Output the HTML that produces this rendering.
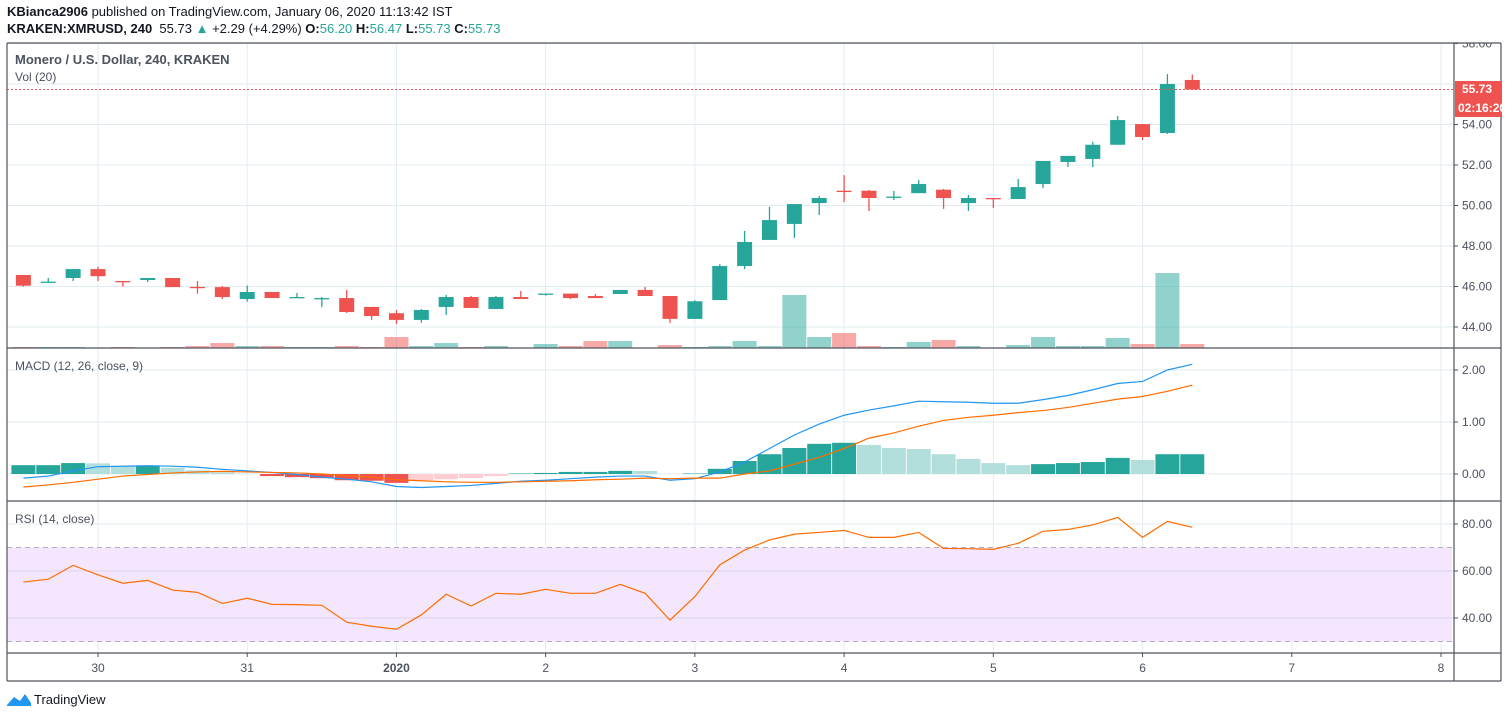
<!DOCTYPE html>
<html><head><meta charset="utf-8">
<style>
html,body{margin:0;padding:0;background:#fff;width:1508px;height:718px;overflow:hidden;font-family:"Liberation Sans",sans-serif;}
.hdr{position:absolute;left:7px;font-size:13px;color:#131722;white-space:nowrap;}
.g{color:#26a69a}
</style></head><body>
<div class="hdr" style="top:4px"><b>KBianca2906</b> published on TradingView.com, January 06, 2020 11:13:42 IST</div>
<div class="hdr" style="top:21px"><b>KRAKEN:XMRUSD, 240</b>&nbsp; 55.73 <span class="g">▲</span> +2.29 (+4.29%) <b>O:</b><span class="g">56.20</span> <b>H:</b><span class="g">56.47</span> <b>L:</b><span class="g">55.73</span> <b>C:</b><span class="g">55.73</span></div>
<svg id="chart" width="1508" height="718" style="position:absolute;left:0;top:0"></svg>
<script>
const opens=[46.57,46.21,46.42,46.86,46.27,46.32,46.42,45.98,45.97,45.38,45.73,45.45,45.40,45.43,44.99,44.68,44.35,44.99,45.48,44.89,45.48,45.60,45.65,45.53,45.63,45.83,45.53,44.40,45.33,47.01,48.30,49.09,50.12,50.73,50.73,50.40,50.61,50.78,50.12,50.37,50.32,51.06,52.15,52.30,53.00,54.02,53.58,56.20];
const highs=[46.57,46.42,46.86,46.98,46.27,46.42,46.42,46.27,46.02,46.05,45.73,45.68,45.48,45.83,44.99,44.84,44.89,45.58,45.53,45.53,45.78,45.65,45.65,45.63,45.83,45.98,45.53,45.32,47.10,48.74,49.93,50.07,50.47,51.50,50.77,50.72,51.26,50.82,50.52,50.37,51.31,52.20,52.45,53.15,54.42,54.02,56.49,56.47];
const lows=[45.99,46.18,46.27,46.27,45.99,46.22,45.97,45.65,45.38,45.25,45.43,45.45,44.98,44.69,44.35,44.15,44.21,44.59,44.94,44.89,45.38,45.55,45.38,45.43,45.63,45.53,44.20,44.40,45.33,46.86,48.30,48.40,49.53,50.17,49.73,50.27,50.61,49.83,49.73,49.88,50.32,50.86,51.90,51.90,53.00,53.23,53.53,55.73];
const closes=[46.04,46.24,46.86,46.51,46.24,46.42,45.97,45.96,45.48,45.73,45.43,45.48,45.43,44.74,44.54,44.35,44.84,45.48,44.94,45.48,45.38,45.65,45.43,45.43,45.83,45.53,44.40,45.27,47.01,48.20,49.28,50.07,50.37,50.70,50.37,50.44,51.06,50.37,50.37,50.34,50.91,52.20,52.45,53.00,54.22,53.38,56.00,55.73];
const volumes=[1,1,1,0.3,1,0.3,1,2,5,2,2,1,1,2,1,11,2,5,1,2,0.3,4,2,7,7,0.3,3,1,2,7,2,53,11,15,2,1,6,8,2,0.3,3,11,2,2,10,4,75,4];
const macdLine=[-0.08,-0.04,0.06,0.14,0.15,0.16,0.15,0.13,0.09,0.06,0.03,-0.01,-0.06,-0.10,-0.15,-0.24,-0.26,-0.24,-0.22,-0.18,-0.14,-0.12,-0.09,-0.06,-0.04,-0.04,-0.12,-0.09,0.04,0.23,0.49,0.75,0.96,1.13,1.23,1.31,1.40,1.39,1.38,1.36,1.36,1.43,1.51,1.62,1.74,1.78,2.00,2.11];
const signalLine=[-0.25,-0.21,-0.16,-0.10,-0.04,-0.01,0.02,0.04,0.05,0.04,0.03,0.02,0,-0.03,-0.06,-0.11,-0.13,-0.15,-0.16,-0.16,-0.15,-0.14,-0.13,-0.11,-0.10,-0.08,-0.09,-0.08,-0.08,0,0.06,0.19,0.32,0.49,0.69,0.79,0.92,1.03,1.09,1.13,1.18,1.22,1.28,1.36,1.44,1.49,1.59,1.71];
const histogram=[0.17,0.17,0.21,0.205,0.16,0.16,0.12,0.07,0.03,0.005,-0.04,-0.06,-0.08,-0.12,-0.13,-0.17,-0.12,-0.10,-0.08,-0.04,0.01,0.02,0.04,0.04,0.06,0.058,0,0.01,0.10,0.25,0.38,0.50,0.58,0.60,0.56,0.50,0.48,0.38,0.29,0.21,0.17,0.19,0.21,0.23,0.31,0.27,0.38,0.38];
const rsiValues=[55.3,56.5,62.4,58.4,54.8,56.0,51.9,50.9,46.2,48.4,45.8,45.7,45.4,38.2,36.5,35.2,41.3,50.1,45.1,50.5,50.1,52.2,50.5,50.5,54.3,50.5,39.1,49.1,62.6,68.9,73.2,75.7,76.4,77.3,74.3,74.3,76.4,69.6,69.5,69.2,71.8,76.9,77.7,79.6,82.8,74.3,81.1,78.6];
const dayLabels=["30","31","2020","2","3","4","5","6","7","8"];
const dayIndex=[3,9,15,21,27,33,39,45,51,57];
const priceTicks=[44,46,48,50,52,54,56,58];
const macdTicks=[0,1,2];
const rsiTicks=[40,60,80];
const lastPrice=55.73;

const NS="http://www.w3.org/2000/svg";
const svg=document.getElementById('chart');
function el(tag,attrs,parent){const e=document.createElementNS(NS,tag);for(const k in attrs)e.setAttribute(k,attrs[k]);(parent||svg).appendChild(e);return e;}
const L=7,R=1454,MT=43,MB=348,DT=348,DB=501,ST=501,SB=653;
const xOf=i=>98+(i-3)*24.87;
const yP=p=>327-(p-44)*20.25;
const yV=v=>348-v*1.0;
const yM=v=>474-v*52;
const yR=v=>524-(v-80)*2.35;
const GRID="#e1ecf2";

dayIndex.forEach((d,k)=>{const x=xOf(d);
 const g=el('line',{x1:x,x2:x,y1:MT,y2:SB,stroke:GRID,'stroke-width':1});
 
});
priceTicks.forEach(p=>{const g=el('line',{x1:L,x2:R,y1:yP(p),y2:yP(p),stroke:GRID});
 });
macdTicks.forEach(p=>{const g=el('line',{x1:L,x2:R,y1:yM(p),y2:yM(p),stroke:GRID});
 });
const band=el('rect',{x:L,y:yR(70),width:R-L-2,height:yR(30)-yR(70),fill:'#f3e6fd'});

rsiTicks.forEach(p=>{const g=el('line',{x1:L,x2:R,y1:yR(p),y2:yR(p),stroke:p==80?GRID:'#ddd4ef'});
 });
[70,30].forEach(p=>{const g=el('line',{x1:L,x2:R-2,y1:yR(p),y2:yR(p),stroke:'#b7a9c0','stroke-dasharray':'5,4'});
 });

volumes.forEach((v,i)=>{const up=closes[i]>=opens[i];
 const r=el('rect',{x:xOf(i)-12,y:yV(v),width:24,height:348-yV(v),fill:up?'rgba(38,166,154,0.5)':'rgba(239,83,80,0.5)'});
 });
opens.forEach((o,i)=>{const c=closes[i],up=c>=o,col=up?'#26a69a':'#ef5350',x=xOf(i);
 const w=el('line',{x1:x,x2:x,y1:yP(highs[i]),y2:yP(lows[i]),stroke:col,'stroke-width':1.3});
 
 const top=yP(Math.max(o,c)),h=Math.max(1.3,Math.abs(yP(o)-yP(c)));
 const b=el('rect',{x:x-7.5,y:top,width:15,height:h,fill:col});
 });
const ly=Math.round(yP(lastPrice))+0.5;
const lp=el('line',{x1:L,x2:R,y1:ly,y2:ly,stroke:'#ef5350','stroke-width':1,'stroke-dasharray':'2,2'});


histogram.forEach((h,i)=>{const prev=i>0?histogram[i-1]:h;let col;
 if(h>=0)col=h>=prev?'#26a69a':'#b2dfdb';else col=h<=prev?'#ef5350':'#ffcdd2';
 const y0=yM(0),y1=yM(h);
 const r=el('rect',{x:xOf(i)-12,y:Math.min(y0,y1),width:24,height:Math.abs(y1-y0),fill:col});
 });
function line(arr,yf,col,name){const p=el('polyline',{points:arr.map((v,i)=>xOf(i)+','+yf(v)).join(' '),fill:'none',stroke:col,'stroke-width':1.2});
 }
line(macdLine,yM,'#2196f3','macd-line');
line(signalLine,yM,'#ff6d00','signal-line');
line(rsiValues,yR,'#ff6d00','rsi-line');

const fr=[[L,MT,1501,MT],[L,MT,L,681],[1501,MT,1501,681],[L,681,1501,681],[R,MT,R,681],[L,MB,1501,MB],[L,DB,1501,DB],[L,SB,1501,SB]];
fr.forEach(f=>{const l=el('line',{x1:f[0],y1:f[1],x2:f[2],y2:f[3],stroke:'#50535e','stroke-width':1.2});
 });

const clip=el('clipPath',{id:'pc'});el('rect',{x:R,y:MT,width:50,height:MB-MT},clip);
priceTicks.forEach(p=>{if(p==56)return;
 const t=el('text',{x:R+8,y:yP(p)+4,'font-size':12,fill:'#4c525e','clip-path':'url(#pc)'});t.textContent=p.toFixed(2);
 
 el('line',{x1:R,x2:R+4,y1:yP(p),y2:yP(p),stroke:'#50535e'});});
macdTicks.forEach(p=>{const t=el('text',{x:R+8,y:yM(p)+4,'font-size':12,fill:'#4c525e'});t.textContent=p.toFixed(2);
 
 el('line',{x1:R,x2:R+4,y1:yM(p),y2:yM(p),stroke:'#50535e'});});
rsiTicks.forEach(p=>{const t=el('text',{x:R+8,y:yR(p)+4,'font-size':12,fill:'#4c525e'});t.textContent=p.toFixed(2);
 
 el('line',{x1:R,x2:R+4,y1:yR(p),y2:yR(p),stroke:'#50535e'});});
dayLabels.forEach((d,k)=>{const x=xOf(dayIndex[k]);
 const t=el('text',{x:x,y:672,'font-size':12,fill:'#4c525e','text-anchor':'middle','font-weight':d=='2020'?'bold':'normal'});t.textContent=d;
 
 el('line',{x1:x,x2:x,y1:SB,y2:SB+4,stroke:'#50535e'});});
const b1=el('rect',{x:R+1,y:81,width:47,height:16,fill:'#ef5350'});

const t1=el('text',{x:R+8,y:93,'font-size':12,fill:'#fff','font-weight':'bold'});t1.textContent=lastPrice.toFixed(2);

const b2=el('rect',{x:R+1,y:97,width:47,height:20,fill:'#ef5350'});

const t2=el('text',{x:R+4,y:112,'font-size':12,fill:'#fff','font-weight':'bold'});t2.textContent='02:16:20';

[['Monero / U.S. Dollar, 240, KRAKEN',64,'main-title',13],['Vol (20)',81,'volume-title',12],['MACD (12, 26, close, 9)',370,'macd-title',12],['RSI (14, close)',523,'rsi-title',12]].forEach(a=>{
 const t=el('text',{x:15,y:a[1],'font-size':a[3],fill:'#4c525e','font-weight':a[2]=='main-title'?'bold':'normal'});t.textContent=a[0];
 });
const lg=el('path',{d:'M7 705 L14 697 L20 701 L25 694 L31 703 L31 706 L7 706 Z',fill:'#2196f3'});

const lt=el('text',{x:34,y:704,'font-size':13,fill:'#131722'});lt.textContent='TradingView';

</script>
</body></html>
